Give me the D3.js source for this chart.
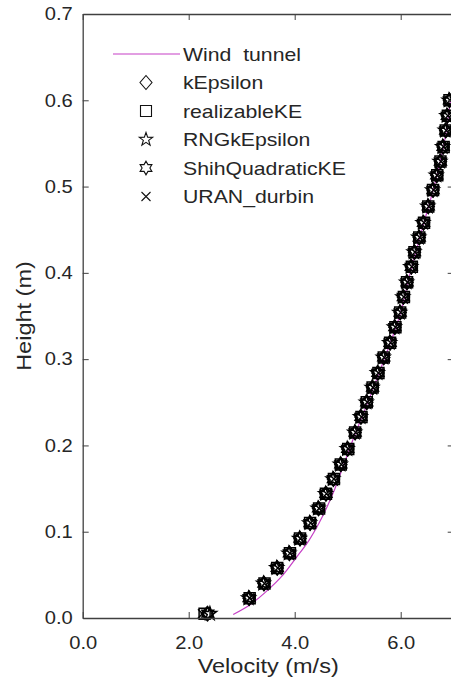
<!DOCTYPE html>
<html>
<head>
<meta charset="utf-8">
<script src="https://cdn.jsdelivr.net/npm/d3@7"></script>
<style>
  html, body { margin: 0; padding: 0; background: #fff; }
  svg { display: block; }
  text { font-family: "Liberation Sans", Arial, Helvetica, sans-serif; fill: #262626; white-space: pre; }
</style>
</head>
<body>
<svg id="chart" width="451" height="691"></svg>
<script>
// ---------------- data ----------------
const xTicks = [0, 2, 4, 6];
const yTicks = [0, 0.1, 0.2, 0.3, 0.4, 0.5, 0.6, 0.7];
const xLabel = "Velocity (m/s)";
const yLabel = "Height (m)";

const seriesNames = ["Wind  tunnel", "kEpsilon", "realizableKE", "RNGkEpsilon", "ShihQuadraticKE", "URAN_durbin"];

// Wind tunnel measurement (line)
const windHeight   = [0.004, 0.015, 0.030, 0.050, 0.070, 0.090, 0.110, 0.130, 0.150, 0.170, 0.190, 0.210, 0.250, 0.300, 0.350, 0.400, 0.450, 0.500, 0.550, 0.600];
const windVelocity = [2.84, 3.15, 3.45, 3.78, 4.03, 4.27, 4.46, 4.62, 4.76, 4.88, 5.00, 5.12, 5.38, 5.69, 5.98, 6.18, 6.40, 6.63, 6.82, 6.94];

// Simulation sample heights (shared by all CFD models)
const simHeight = [0.005, 0.023, 0.040, 0.058, 0.075, 0.092, 0.110, 0.127, 0.144, 0.161, 0.178, 0.196, 0.215, 0.233, 0.250, 0.267, 0.284, 0.302, 0.319, 0.337, 0.354, 0.372, 0.389, 0.407, 0.424, 0.441, 0.458, 0.477, 0.496, 0.513, 0.529, 0.546, 0.565, 0.582, 0.600];

const velKEpsilon        = [2.35, 3.14, 3.42, 3.67, 3.90, 4.10, 4.29, 4.45, 4.59, 4.73, 4.87, 5.00, 5.14, 5.25, 5.36, 5.47, 5.57, 5.68, 5.80, 5.89, 5.99, 6.05, 6.12, 6.20, 6.26, 6.35, 6.43, 6.52, 6.61, 6.68, 6.75, 6.80, 6.85, 6.88, 6.92];
const velRealizableKE    = [2.30, 3.15, 3.43, 3.67, 3.91, 4.10, 4.29, 4.46, 4.59, 4.74, 4.87, 5.01, 5.14, 5.26, 5.36, 5.47, 5.58, 5.68, 5.80, 5.90, 5.99, 6.06, 6.12, 6.21, 6.26, 6.35, 6.44, 6.52, 6.61, 6.69, 6.75, 6.81, 6.85, 6.89, 6.92];
const velRNGkEpsilon     = [2.40, 3.13, 3.41, 3.66, 3.89, 4.09, 4.28, 4.44, 4.58, 4.72, 4.86, 4.99, 5.13, 5.24, 5.35, 5.46, 5.56, 5.67, 5.79, 5.88, 5.98, 6.04, 6.11, 6.19, 6.25, 6.34, 6.42, 6.51, 6.60, 6.67, 6.74, 6.79, 6.84, 6.87, 6.91];
const velShihQuadraticKE = [2.36, 3.14, 3.42, 3.67, 3.90, 4.10, 4.29, 4.45, 4.59, 4.73, 4.87, 5.00, 5.14, 5.25, 5.36, 5.47, 5.57, 5.68, 5.80, 5.89, 5.99, 6.05, 6.12, 6.20, 6.26, 6.35, 6.43, 6.52, 6.61, 6.68, 6.75, 6.80, 6.85, 6.88, 6.92];
const velURANdurbin      = [2.26, 3.15, 3.43, 3.68, 3.91, 4.11, 4.30, 4.46, 4.60, 4.74, 4.88, 5.01, 5.15, 5.26, 5.37, 5.48, 5.58, 5.69, 5.81, 5.90, 6.00, 6.06, 6.13, 6.21, 6.27, 6.36, 6.44, 6.53, 6.62, 6.69, 6.76, 6.81, 6.86, 6.89, 6.93];

// ---------------- marker shapes ----------------
function starPath(n, ro, ri) {
  const p = [];
  for (let i = 0; i < 2 * n; i++) {
    const r = i % 2 === 0 ? ro : ri;
    const a = -Math.PI / 2 + i * Math.PI / n;
    p.push([r * Math.cos(a), r * Math.sin(a)]);
  }
  return "M" + p.map(d => d[0].toFixed(2) + "," + d[1].toFixed(2)).join("L") + "Z";
}
const markerPaths = {
  diamond: "M0,-7L6,0L0,7L-6,0Z",
  square: "M-5.5,-5.5L5.5,-5.5L5.5,5.5L-5.5,5.5Z",
  pentagram: starPath(5, 7, 2.8),
  hexagram: starPath(6, 6.8, 3.9),
  cross: "M-4.5,-4.5L4.5,4.5M-4.5,4.5L4.5,-4.5"
};

const simSeries = [
  { name: seriesNames[1], vel: velKEpsilon, marker: "diamond" },
  { name: seriesNames[2], vel: velRealizableKE, marker: "square" },
  { name: seriesNames[3], vel: velRNGkEpsilon, marker: "pentagram" },
  { name: seriesNames[4], vel: velShihQuadraticKE, marker: "hexagram" },
  { name: seriesNames[5], vel: velURANdurbin, marker: "cross" }
];

// ---------------- layout ----------------
const svg = d3.select("#chart");
const mLeft = 82.7, mRight = 453.7, mTop = 14, mBottom = 618;
const x = d3.scaleLinear().domain([0, 7]).range([mLeft, mRight]);
const y = d3.scaleLinear().domain([0, 0.7]).range([mBottom, mTop]);
const axisColor = "#404040";
const lineColor = "#c63fc6";
const SX = 1.12; // horizontal glyph widening

// data layer
const plot = svg.append("g");
const line = d3.line().x(d => x(d[0])).y(d => y(d[1])).curve(d3.curveCatmullRom);
plot.append("path")
  .datum(windVelocity.map((v, i) => [v, windHeight[i]]))
  .attr("d", line)
  .attr("fill", "none")
  .attr("stroke", lineColor)
  .attr("stroke-width", 1.2);

simSeries.forEach(s => {
  plot.append("g").selectAll("path")
    .data(s.vel.map((v, i) => [v, simHeight[i]]))
    .join("path")
    .attr("transform", d => `translate(${x(d[0])},${y(d[1])})`)
    .attr("d", markerPaths[s.marker])
    .attr("fill", "none")
    .attr("stroke", "#000")
    .attr("stroke-width", 1.5);
});

// axes
const fmt = d3.format(".1f");
const gx = svg.append("g").attr("transform", `translate(0,${mBottom})`)
  .call(d3.axisBottom(x).tickValues(xTicks).tickFormat(fmt).tickSizeInner(-6).tickSizeOuter(0).tickPadding(18));
const gy = svg.append("g").attr("transform", `translate(${mLeft},0)`)
  .call(d3.axisLeft(y).tickValues(yTicks).tickFormat(fmt).tickSizeInner(-6).tickSizeOuter(0).tickPadding(10));
const gt = svg.append("g").attr("transform", `translate(0,${mTop})`)
  .call(d3.axisTop(x).tickValues(xTicks).tickFormat("").tickSizeInner(-6).tickSizeOuter(0));
const gr = svg.append("g").attr("transform", `translate(${mRight},0)`)
  .call(d3.axisRight(y).tickValues(yTicks).tickFormat("").tickSizeInner(-6).tickSizeOuter(0));

[gx, gy, gt, gr].forEach(g => {
  g.select(".domain").attr("stroke", axisColor).attr("stroke-width", 1.3);
  g.selectAll(".tick line").attr("stroke", axisColor).attr("stroke-width", 1);
  g.selectAll("text").attr("font-size", 18).attr("fill", "#262626")
    .attr("font-family", '"Liberation Sans", Arial, sans-serif');
});
gx.selectAll(".tick text").attr("transform", `scale(${SX},1)`);
gy.selectAll(".tick text").attr("x", -10 / SX).attr("transform", `scale(${SX},1)`);

// axis labels
svg.append("text")
  .attr("transform", `translate(${(mLeft + mRight) / 2},673) scale(${SX},1)`)
  .attr("text-anchor", "middle").attr("font-size", 21)
  .text(xLabel);
svg.append("text")
  .attr("transform", `translate(31,${(mTop + mBottom) / 2}) rotate(-90) scale(${SX},1)`)
  .attr("text-anchor", "middle").attr("font-size", 21)
  .text(yLabel);

// legend
const legend = svg.append("g");
const legX = 146, legTextX = 183, legY0 = 54, legDy = 28.5;
legend.append("line")
  .attr("x1", 113).attr("x2", 180).attr("y1", legY0).attr("y2", legY0)
  .attr("stroke", lineColor).attr("stroke-width", 1.2);
seriesNames.forEach((n, i) => {
  const yy = legY0 + i * legDy;
  legend.append("text")
    .attr("transform", `translate(${legTextX},${yy + 6.5}) scale(1.18,1)`)
    .attr("font-size", 18)
    .attr("xml:space", "preserve")
    .text(n);
  if (i > 0) {
    legend.append("path")
      .attr("transform", `translate(${legX},${yy})`)
      .attr("d", markerPaths[simSeries[i - 1].marker])
      .attr("fill", "none").attr("stroke", "#111").attr("stroke-width", 1.1);
  }
});
</script>
</body>
</html>
